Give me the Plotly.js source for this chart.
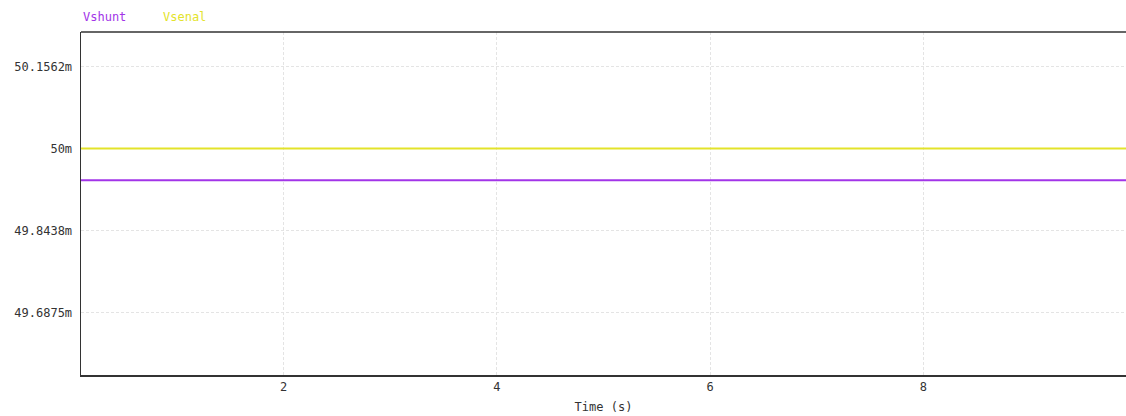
<!DOCTYPE html>
<html>
<head>
<meta charset="utf-8">
<script src="https://cdn.plot.ly/plotly-3.0.1.min.js"></script>
<style>html,body{margin:0;padding:0;background:#fff;}#chart{width:1126px;height:416px;}</style>
</head>
<body>
<div id="chart"></div>
<script>
// Data (values in mV)
const time = [0.1, 9.9];
const vshunt = [49.9396, 49.9396];
const vsenal = [50.0, 50.0];
const seriesNames = ["Vshunt", "Vsenal"];
const seriesColors = ["#a234e8", "#e3e32a"];
const yTickVals = [49.6875, 49.84375, 50.0, 50.15625];
const yTickText = ["49.6875m", "49.8438m", "50m", "50.1562m"];
const xTickVals = [2, 4, 6, 8];

const mono = "DejaVu Sans Mono, monospace";

const traces = [
  {x: time, y: vshunt, name: seriesNames[0], mode: "lines", line: {color: seriesColors[0], width: 2}},
  {x: time, y: vsenal, name: seriesNames[1], mode: "lines", line: {color: seriesColors[1], width: 2}}
];

const layout = {
  width: 1126, height: 416,
  margin: {l: 81, r: 0, t: 32, b: 41},
  paper_bgcolor: "#fff", plot_bgcolor: "#fff",
  showlegend: false,
  font: {family: mono, size: 12, color: "#333"},
  xaxis: {
    range: [0.1, 9.9],
    tickvals: xTickVals,
    ticks: "", showline: true, linecolor: "#333", linewidth: 1.5,
    mirror: false,
    showgrid: true, gridcolor: "#e4e4e4", griddash: "3px,2px", gridwidth: 1,
    zeroline: false,
    tickfont: {family: mono, size: 12, color: "#333"},
    title: {text: "Time (s)", font: {family: mono, size: 12, color: "#333"}, standoff: 9}
  },
  yaxis: {
    range: [49.5696, 50.2216],
    tickvals: yTickVals, ticktext: yTickText,
    ticks: "", showline: true, linecolor: "#333", linewidth: 1.5,
    ticklabelstandoff: 5,
    showgrid: true, gridcolor: "#e4e4e4", griddash: "3px,2px", gridwidth: 1,
    zeroline: false,
    tickfont: {family: mono, size: 12, color: "#333"}
  },
  shapes: [
    {type: "line", xref: "paper", yref: "paper", x0: 0, x1: 1, y0: 1, y1: 1, line: {color: "#333", width: 1.5}}
  ],
  annotations: [
    {xref: "paper", yref: "paper", x: 0, y: 1, yshift: 15, xanchor: "left", yanchor: "middle", showarrow: false,
     text: seriesNames[0], font: {family: mono, size: 12, color: seriesColors[0]}},
    {xref: "paper", yref: "paper", x: 0, y: 1, xshift: 80, yshift: 15, xanchor: "left", yanchor: "middle", showarrow: false,
     text: seriesNames[1], font: {family: mono, size: 12, color: seriesColors[1]}}
  ]
};

Plotly.newPlot("chart", traces, layout, {displayModeBar: false, staticPlot: true});
</script>
</body>
</html>
